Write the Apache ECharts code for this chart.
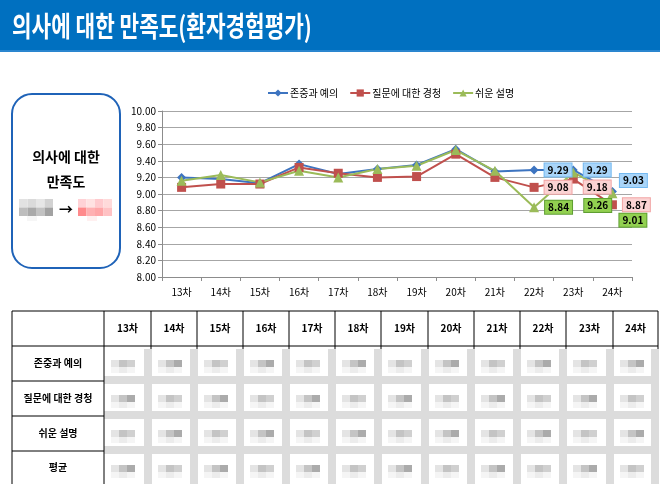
<!DOCTYPE html>
<html>
<head>
<meta charset="utf-8">
<script src="https://cdn.jsdelivr.net/npm/echarts@6/dist/echarts.min.js"></script>
<style>
    html, body { margin: 0; padding: 0; background: #fff; }
    #main { width: 660px; height: 484px; }
</style>
</head>
<body>
<div id="main"></div>
<script>
// 회차
var rounds = ['13차', '14차', '15차', '16차', '17차', '18차', '19차', '20차', '21차', '22차', '23차', '24차'];
var seriesNames = ['존중과 예의', '질문에 대한 경청', '쉬운 설명'];
// 값
var respectData = [9.20, 9.18, 9.13, 9.36, 9.24, 9.30, 9.35, 9.54, 9.27, 9.29, 9.29, 9.03];
var listenData  = [9.08, 9.12, 9.12, 9.32, 9.25, 9.20, 9.21, 9.48, 9.20, 9.08, 9.18, 8.87];
var explainData = [9.16, 9.23, 9.14, 9.28, 9.20, 9.30, 9.34, 9.53, 9.28, 8.84, 9.26, 9.01];
var yTicks = ['8.00', '8.20', '8.40', '8.60', '8.80', '9.00', '9.20', '9.40', '9.60', '9.80', '10.00'];
var rowNames = ['존중과 예의', '질문에 대한 경청', '쉬운 설명', '평균'];

var colors = ['#3d74c0', '#c0504d', '#9bbb59'];
var labelBoxes = [
    {bg: '#a9d5f9', border: '#74b9f0'},
    {bg: '#fbd3d3', border: '#f2a5a5'},
    {bg: '#92d050', border: '#5e9e32'}
];
// 마지막 3회차 데이터 레이블 위치 (index: offset)
var labelOffsets = [
    {9: [0, 0], 10: [0, 0], 11: [-3, -11]},
    {9: [0, 0], 10: [0, 8], 11: [0, 0]},
    {9: [0, 0], 10: [0, 33], 11: [-4, 27]}
];

function buildData(values, s) {
    var out = [];
    for (var i in values) {
        var item = {value: values[i]};
        if (labelOffsets[s][i]) {
            item.label = {
                show: true,
                position: 'right',
                distance: 6,
                offset: labelOffsets[s][i],
                formatter: function (p) { return p.value.toFixed(2); },
                backgroundColor: labelBoxes[s].bg,
                borderColor: labelBoxes[s].border,
                borderWidth: 1,
                padding: [2, 3, 1, 3],
                color: '#000',
                fontWeight: 'bold',
                fontSize: 10
            };
        }
        out.push(item);
    }
    return out;
}

// ---- 표 / 장식 ----
var font = '"Noto Sans CJK KR", sans-serif';
var graphics = [];
graphics.push({type: 'rect', shape: {x: 0, y: 0, width: 660, height: 52}, style: {fill: '#0070c0'}});
graphics.push({type: 'rect', shape: {x: 0, y: 50, width: 660, height: 2}, style: {fill: '#2a86cf'}});
graphics.push({
    type: 'text', x: 12, y: 26, scaleX: 0.76,
    style: {text: '의사에 대한 만족도(환자경험평가)', fill: '#fff', font: 'bold 28px ' + font, textVerticalAlign: 'middle'}
});

// 왼쪽 박스
graphics.push({type: 'rect', shape: {x: 12, y: 94, width: 108, height: 174, r: 20}, style: {fill: '#fff', stroke: '#1f63b8', lineWidth: 2}});
graphics.push({type: 'text', x: 66, y: 157, style: {text: '의사에 대한', fill: '#000', font: 'bold 14px ' + font, textAlign: 'center', textVerticalAlign: 'middle'}});
graphics.push({type: 'text', x: 66, y: 182, style: {text: '만족도', fill: '#000', font: 'bold 14px ' + font, textAlign: 'center', textVerticalAlign: 'middle'}});
var grayTop = ['#e2e2e2', '#dadada', '#e6e6e6', '#d2d2d2'];
var grayBot = ['#bdbdbd', '#a9a9a9', '#c2c2c2', '#a2a2a2'];
var pinkTop = ['#ffd2d6', '#ffe2e2', '#ffcace', '#ffdada'];
var pinkBot = ['#ff8a8c', '#ffb0b2', '#ffa6a8', '#ffc2c4'];
for (var k = 0; k < 4; k++) {
    graphics.push({type: 'rect', shape: {x: 19 + k * 8.5, y: 199, width: 8.5, height: 8.5}, style: {fill: grayTop[k]}});
    graphics.push({type: 'rect', shape: {x: 19 + k * 8.5, y: 207.5, width: 8.5, height: 8.5}, style: {fill: grayBot[k]}});
    graphics.push({type: 'rect', shape: {x: 78 + k * 8.5, y: 199, width: 8.5, height: 8.5}, style: {fill: pinkTop[k]}});
    graphics.push({type: 'rect', shape: {x: 78 + k * 8.5, y: 207.5, width: 8.5, height: 8.5}, style: {fill: pinkBot[k]}});
}
graphics.push({type: 'rect', shape: {x: 27, y: 216, width: 10, height: 5}, style: {fill: '#f6f6f6'}});
graphics.push({type: 'rect', shape: {x: 87, y: 216, width: 10, height: 5}, style: {fill: '#fff0f0'}});
graphics.push({type: 'text', x: 66, y: 209, style: {text: '→', fill: '#000', font: 'bold 14px ' + font, textAlign: 'center', textVerticalAlign: 'middle'}});

// 아래 표
var colX = [12, 104, 151, 197, 243, 289, 335, 381, 428, 474, 520, 566, 613, 658];
var rowY = [311, 346, 381, 416, 451, 484];
function line(x1, y1, x2, y2) {
    graphics.push({type: 'line', shape: {x1: x1, y1: y1, x2: x2, y2: y2}, style: {stroke: '#000', lineWidth: 1}});
}
// 본문 모자이크
for (var c = 1; c < colX.length - 1; c++) {
    for (var r = 1; r < rowY.length - 1; r++) {
        var cx = colX[c] + 7, cy = rowY[r] + 14;
        var shades = ['#e4e4e4', '#c4c4c4', (c + r) % 2 ? '#ababab' : '#d0d0d0'];
        for (var b = 0; b < 3; b++) {
            graphics.push({type: 'rect', shape: {x: cx + b * 8, y: cy, width: 8, height: 7}, style: {fill: shades[b]}});
            graphics.push({type: 'rect', shape: {x: cx + b * 8, y: cy + 7, width: 8, height: 6}, style: {fill: b === 1 ? '#ececec' : '#f5f5f5'}});
        }
    }
}
for (var r2 = 2; r2 < rowY.length - 1; r2++) {
    graphics.push({type: 'rect', shape: {x: 104, y: rowY[r2] - 5, width: 548, height: 8}, style: {fill: '#dcdcdc'}});
    line(652, rowY[r2], 658, rowY[r2]);
}
for (var c2 = 2; c2 < colX.length; c2++) {
    graphics.push({type: 'rect', shape: {x: colX[c2] - 7, y: 349, width: 8, height: 135}, style: {fill: '#dcdcdc'}});
}
// 선
line(12, rowY[0], 658, rowY[0]);
line(12, rowY[1], 658, rowY[1]);
line(12, rowY[0], 12, 484);
line(104, rowY[0], 104, 484);
for (var c3 = 2; c3 < colX.length; c3++) line(colX[c3], rowY[0], colX[c3], rowY[1] + 3);
for (var r3 = 2; r3 < rowY.length - 1; r3++) line(12, rowY[r3], 104, rowY[r3]);
// 글자
for (var h in rounds) {
    var hi = +h;
    graphics.push({type: 'text', x: (colX[hi + 1] + colX[hi + 2]) / 2, y: (rowY[0] + rowY[1]) / 2,
        style: {text: rounds[hi], fill: '#000', font: 'bold 10px ' + font, textAlign: 'center', textVerticalAlign: 'middle'}});
}
for (var n in rowNames) {
    var ni = +n;
    graphics.push({type: 'text', x: 58, y: (rowY[ni + 1] + rowY[ni + 2]) / 2,
        style: {text: rowNames[ni], fill: '#000', font: 'bold 10px ' + font, textAlign: 'center', textVerticalAlign: 'middle'}});
}

var myChart = echarts.init(document.getElementById('main'));
var option = {
    animation: false,
    textStyle: {fontFamily: font},
    color: colors,
    legend: {
        top: 83,
        left: 262,
        itemWidth: 20,
        itemHeight: 9,
        itemGap: 11,
        textStyle: {fontSize: 10, color: '#000', padding: [0, 0, 0, -3]},
        data: seriesNames
    },
    grid: {left: 162, right: 28, top: 111, bottom: 207},
    xAxis: {
        type: 'category',
        data: rounds,
        boundaryGap: true,
        axisLine: {lineStyle: {color: '#8c8c8c'}},
        axisTick: {show: true, length: 4, lineStyle: {color: '#8c8c8c'}},
        axisLabel: {color: '#000', fontSize: 10, margin: 10}
    },
    yAxis: {
        type: 'value',
        min: 8,
        max: 10,
        interval: 0.2,
        axisLine: {show: true, lineStyle: {color: '#8c8c8c'}},
        axisTick: {show: true, length: 4, lineStyle: {color: '#8c8c8c'}},
        axisLabel: {
            color: '#000', fontSize: 10, margin: 6,
            formatter: function (v) { return yTicks[Math.round((v - 8) / 0.2)]; }
        },
        splitLine: {lineStyle: {color: '#a6a6a6'}}
    },
    series: [
        {name: seriesNames[0], type: 'line', symbol: 'diamond', symbolSize: 9, lineStyle: {width: 2}, data: buildData(respectData, 0)},
        {name: seriesNames[1], type: 'line', symbol: 'rect', symbolSize: 9, lineStyle: {width: 2}, data: buildData(listenData, 1)},
        {name: seriesNames[2], type: 'line', symbol: 'triangle', symbolSize: 10, lineStyle: {width: 2}, data: buildData(explainData, 2)}
    ],
    graphic: graphics
};
myChart.setOption(option);
</script>
</body>
</html>
